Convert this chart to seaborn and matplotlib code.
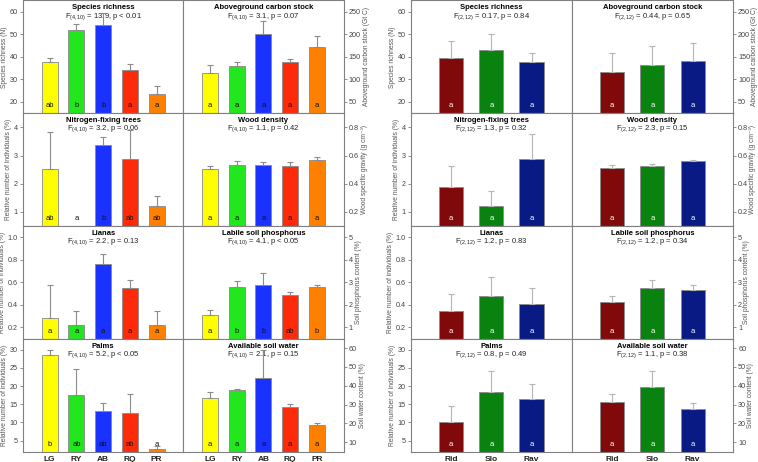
import numpy as np
import pandas as pd
import matplotlib
matplotlib.use("Agg")
import matplotlib.pyplot as plt
import matplotlib.transforms as mtransforms
import seaborn as sns

# ---------------- data ----------------
sites_a = ["LG", "RY", "AB", "RQ", "PR"]
sites_b = ["Rid", "Slo", "Rav"]
colors_a = ["#FFFF00", "#22E61E", "#1A32FF", "#FF2A0A", "#FF8000"]
colors_b = ["#800A0A", "#0A820F", "#0A1A84"]

# left block (forest types): means and upper standard errors
rich_a = [37.9, 52.1, 54.1, 34.4, 23.5]
rich_a_err = [1.8, 2.3, 5.4, 2.5, 3.7]
carb_a = [114.7, 129.4, 200.0, 139.7, 172.0]
carb_a_err = [16.9, 10.3, 30.0, 6.6, 23.6]
nfix_a = [2.51, 0.0, 3.37, 2.88, 1.21]
nfix_a_err = [1.32, 0.0, 0.28, 1.04, 0.36]
wood_a = [0.505, 0.535, 0.530, 0.525, 0.568]
wood_a_err = [0.020, 0.027, 0.023, 0.028, 0.021]
lian_a = [0.287, 0.22, 0.765, 0.548, 0.22]
lian_a_err = [0.293, 0.123, 0.088, 0.077, 0.123]
phos_a = [1.54, 2.81, 2.87, 2.43, 2.78]
phos_a_err = [0.24, 0.25, 0.53, 0.13, 0.09]
palm_a = [28.6, 17.6, 13.15, 12.5, 2.7]
palm_a_err = [1.4, 7.0, 2.25, 5.3, 0.8]
watr_a = [33.6, 37.5, 44.3, 28.8, 19.0]
watr_a_err = [3.0, 0.8, 14.5, 1.4, 1.4]

let_rich_a = ["ab", "b", "b", "a", "a"]
let_carb_a = ["a", "a", "a", "a", "a"]
let_nfix_a = ["ab", "a", "b", "ab", "ab"]
let_wood_a = ["a", "a", "a", "a", "a"]
let_lian_a = ["a", "a", "a", "a", "a"]
let_phos_a = ["a", "b", "b", "ab", "b"]
let_palm_a = ["b", "ab", "ab", "ab", "a"]
let_watr_a = ["a", "a", "a", "a", "a"]

# right block (topography)
rich_b = [39.7, 42.9, 37.9]
rich_b_err = [7.2, 7.1, 3.9]
carb_b = [115.4, 133.0, 140.4]
carb_b_err = [42.6, 42.0, 41.2]
nfix_b = [1.87, 1.2, 2.87]
nfix_b_err = [0.77, 0.54, 0.90]
wood_b = [0.510, 0.523, 0.558]
wood_b_err = [0.022, 0.018, 0.008]
lian_b = [0.35, 0.48, 0.406]
lian_b_err = [0.147, 0.167, 0.144]
phos_b = [2.15, 2.74, 2.65]
phos_b_err = [0.25, 0.36, 0.22]
palm_b = [10.2, 18.45, 16.4]
palm_b_err = [4.3, 5.65, 4.1]
watr_b = [31.3, 39.3, 27.5]
watr_b_err = [4.1, 8.8, 3.3]
let_b = ["a", "a", "a"]

titles_left = ["Species richness", "Nitrogen-fixing trees", "Lianas", "Palms"]
titles_right = ["Aboveground carbon stock", "Wood density", "Labile soil phosphorus", "Available soil water"]
ylabels_left = ["Species richness (N)", "Relative number of individuals (%)",
                "Relative number of individuals (%)", "Relative number of individuals (%)"]
ylabels_right = ["Aboveground carbon stock (Gt C)", "Wood specific gravity (g cm\u207b\u00b3)",
                 "Soil phosphorus content (%)", "Soil water content (%)"]
stats_a_left = ["13.9, p < 0.01", "3.2, p = 0.06", "2.2, p = 0.13", "5.2, p < 0.05"]
stats_a_right = ["3.1, p = 0.07", "1.1, p = 0.42", "4.1, p < 0.05", "2.1, p = 0.15"]
stats_b_left = ["0.17, p = 0.84", "1.3, p = 0.32", "1.2, p = 0.83", "0.8, p = 0.49"]
stats_b_right = ["0.44, p = 0.65", "2.3, p = 0.15", "1.2, p = 0.34", "1.1, p = 0.38"]

ylims_left = [(15, 65), (0.5, 4.5), (0.1, 1.1), (2, 33)]
ylims_right = [(25, 275), (0.1, 0.9), (0.5, 5.5), (5, 65)]
yticks_left = [[20, 30, 40, 50, 60], [1, 2, 3, 4], [0.2, 0.4, 0.6, 0.8, 1.0], [5, 10, 15, 20, 25, 30]]
yticks_right = [[50, 100, 150, 200, 250], [0.2, 0.4, 0.6, 0.8], [1, 2, 3, 4, 5], [10, 20, 30, 40, 50, 60]]

# ---------------- style ----------------
sns.set_theme(style="white")
plt.rcParams["font.family"] = ["Liberation Sans", "DejaVu Sans"]
plt.rcParams["mathtext.fontset"] = "custom"
plt.rcParams["mathtext.rm"] = "Liberation Sans"
plt.rcParams["mathtext.it"] = "Liberation Sans:italic"
plt.rcParams["mathtext.bf"] = "Liberation Sans:bold"

W, H = 758, 462
fig = plt.figure(figsize=(W / 100, H / 100), dpi=100)

SPINE = "#808080"
TICKC = "#444444"
LABC = "#555555"


def panel(ax, cats, vals, errs, cols, letters, letcol, ylim, yticks, side,
          ylabel, title, stat, df_txt, errcol, show_x, rpad):
    df = pd.DataFrame({"site": cats, "value": vals})
    sns.barplot(data=df, x="site", y="value", hue="site", order=cats,
                hue_order=cats, palette=cols, legend=False, width=0.6,
                saturation=1, errorbar=None, edgecolor="#8a8a8a",
                linewidth=0.6, ax=ax)
    x = np.arange(len(cats))
    ax.errorbar(x, vals, yerr=[np.zeros(len(errs)), errs], fmt="none",
                ecolor=errcol, elinewidth=0.8, capsize=2.0, capthick=0.8,
                zorder=4)
    ax.set_xlim(-1, len(cats))
    ax.set_ylim(*ylim)
    ax.set_yticks(yticks)
    ax.set_xlabel("")
    trans = mtransforms.blended_transform_factory(ax.transData, ax.transAxes)
    for xi, lt in zip(x, letters):
        ax.text(xi, 0.065, lt, transform=trans, ha="center", va="center",
                fontsize=5.5, color=letcol, zorder=5)
    ax.text(0.5, 0.935, title, transform=ax.transAxes, ha="center",
            va="center", fontsize=5.5, fontweight="bold", color="black")
    ax.text(0.5, 0.86, r"F$_{\mathrm{" + df_txt + "}}$ = " + stat,
            transform=ax.transAxes, ha="center", va="center", fontsize=5.5,
            color="#222222", zorder=3)
    for s in ax.spines.values():
        s.set_color(SPINE)
        s.set_linewidth(0.8)
        s.set_visible(True)
    ax.tick_params(axis="y", direction="out", length=2.2, width=0.6,
                   colors=SPINE, labelcolor=TICKC, labelsize=5.2, pad=1.5)
    if side == "left":
        ax.yaxis.tick_left()
        ax.set_ylabel(ylabel, fontsize=4.8, color=LABC, labelpad=1.5)
    else:
        ax.yaxis.tick_right()
        ax.yaxis.set_label_position("right")
        ax.set_ylabel(ylabel, fontsize=4.8, color=LABC, labelpad=rpad)
    if show_x:
        ax.tick_params(axis="x", length=0, labelsize=6, pad=3,
                       labelcolor="#222222")
        for lab in ax.get_xticklabels():
            lab.set_fontweight("bold")
    else:
        ax.tick_params(axis="x", length=0, labelbottom=False)


# panel positions in pixels
top_px, bot_px = 0.5, 451.5
row_h = (bot_px - top_px) / 4
blocks = [
    (23.0, 183.3, 343.5),
    (411.0, 571.7, 733.0),
]

data_a = [
    (rich_a, rich_a_err, let_rich_a, carb_a, carb_a_err, let_carb_a),
    (nfix_a, nfix_a_err, let_nfix_a, wood_a, wood_a_err, let_wood_a),
    (lian_a, lian_a_err, let_lian_a, phos_a, phos_a_err, let_phos_a),
    (palm_a, palm_a_err, let_palm_a, watr_a, watr_a_err, let_watr_a),
]
data_b = [
    (rich_b, rich_b_err, let_b, carb_b, carb_b_err, let_b),
    (nfix_b, nfix_b_err, let_b, wood_b, wood_b_err, let_b),
    (lian_b, lian_b_err, let_b, phos_b, phos_b_err, let_b),
    (palm_b, palm_b_err, let_b, watr_b, watr_b_err, let_b),
]

for bi, (x0, xm, x1) in enumerate(blocks):
    cats = sites_a if bi == 0 else sites_b
    cols = colors_a if bi == 0 else colors_b
    letcol = "#111111" if bi == 0 else "white"
    errcol = "#8c8c8c" if bi == 0 else "#b5b5b5"
    dft = "(4,10)" if bi == 0 else "(2,12)"
    dset = data_a if bi == 0 else data_b
    stl = stats_a_left if bi == 0 else stats_b_left
    str_ = stats_a_right if bi == 0 else stats_b_right
    rpad = 1.5 if bi == 0 else 0.8
    for r in range(4):
        y_top = top_px + r * row_h
        y_bot = y_top + row_h
        fb = 1 - y_bot / H
        fh = row_h / H
        axL = fig.add_axes([x0 / W, fb, (xm - x0) / W, fh])
        axR = fig.add_axes([xm / W, fb, (x1 - xm) / W, fh])
        lv, le, ll, rv, re, rl = dset[r]
        show_x = (r == 3)
        panel(axL, cats, lv, le, cols, ll, letcol, ylims_left[r], yticks_left[r],
              "left", ylabels_left[r], titles_left[r], stl[r], dft, errcol, show_x, rpad)
        panel(axR, cats, rv, re, cols, rl, letcol, ylims_right[r], yticks_right[r],
              "right", ylabels_right[r], titles_right[r], str_[r], dft, errcol, show_x, rpad)

fig.savefig("out.png", dpi=100)
